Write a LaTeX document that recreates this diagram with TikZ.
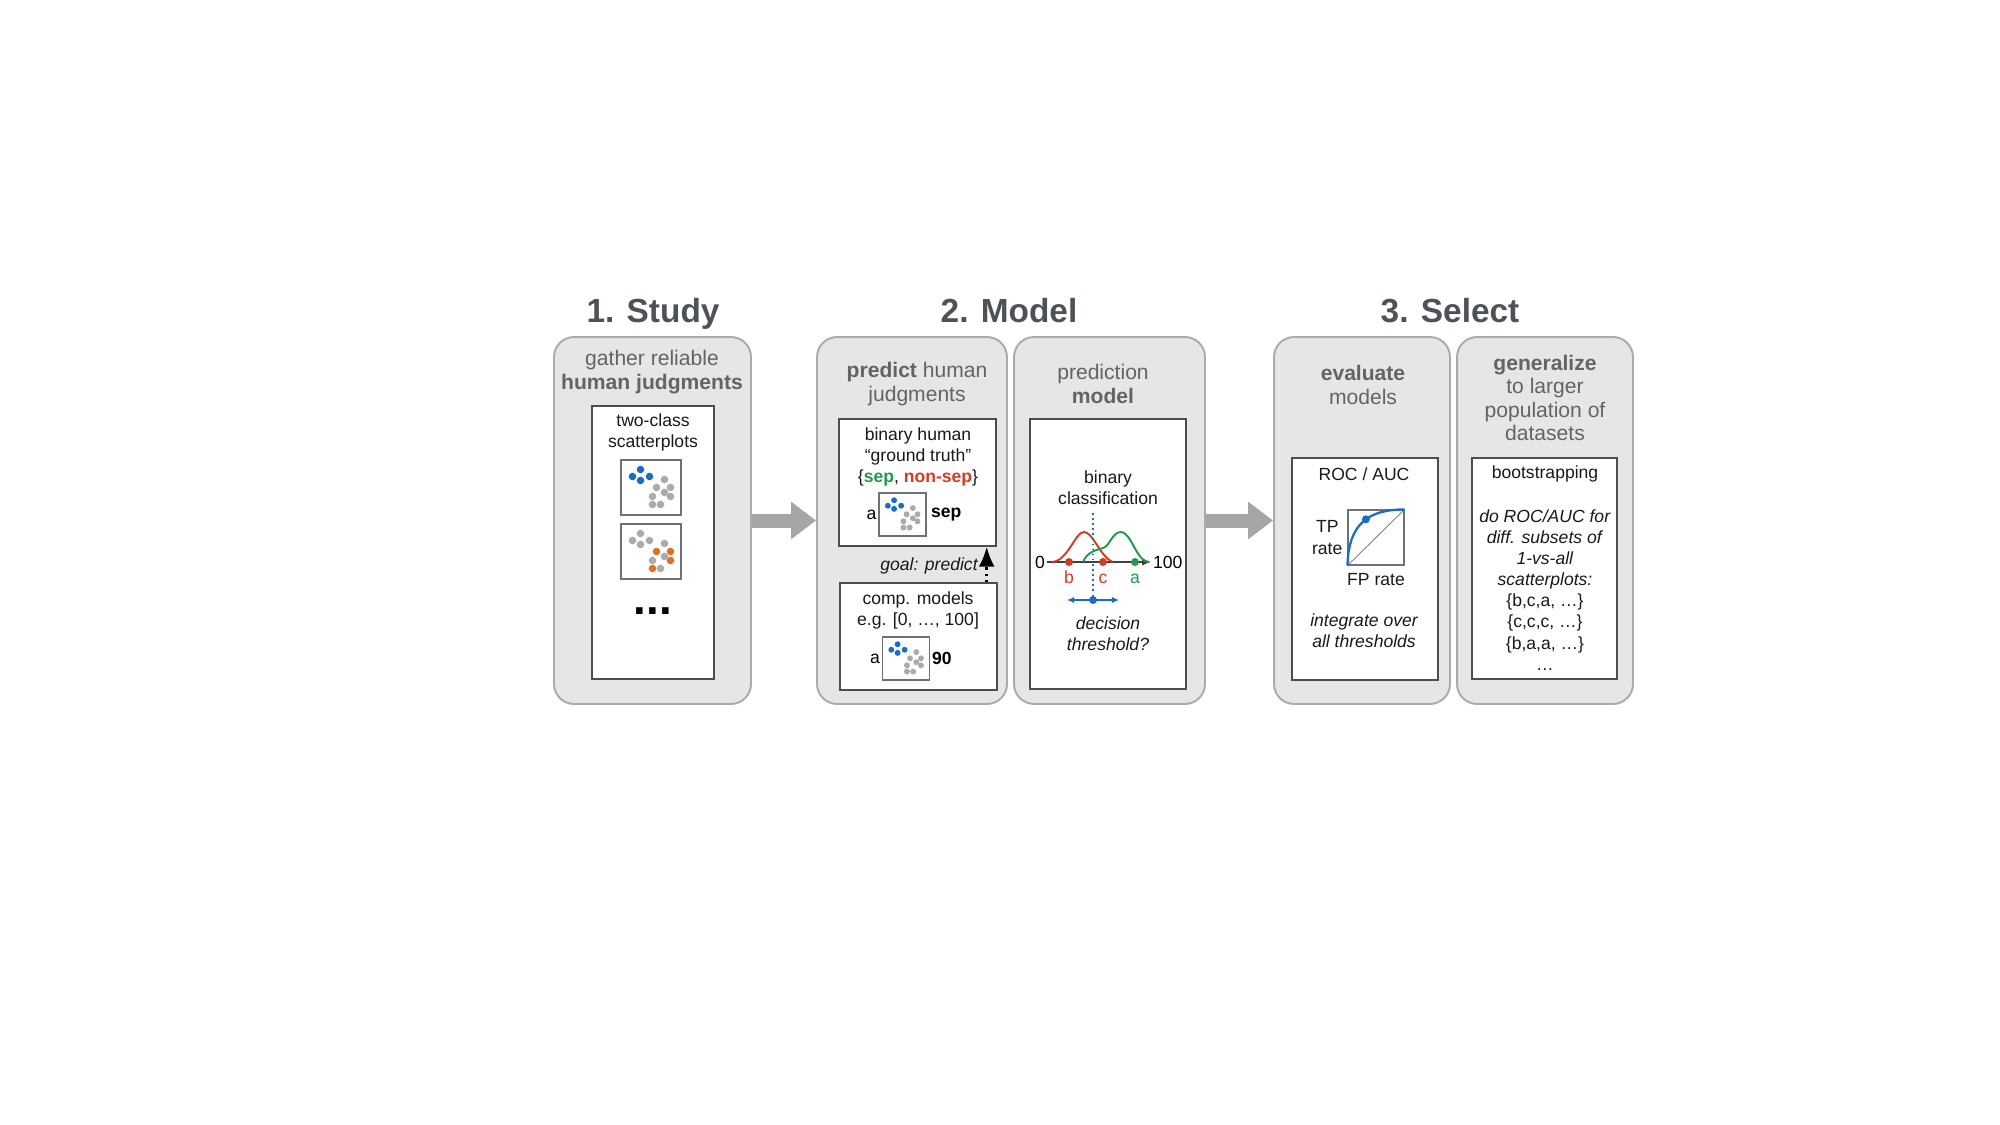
\documentclass[tikz,border=0pt]{standalone}
\usepackage{fontspec}
\setmainfont{Liberation Sans}
\usetikzlibrary{arrows.meta,positioning}
\definecolor{panelfill}{HTML}{E6E6E6}
\definecolor{panelline}{HTML}{ABABAB}
\definecolor{titlecol}{HTML}{4D5258}
\definecolor{hdrcol}{HTML}{646464}
\definecolor{boxline}{HTML}{4D4D4D}
\definecolor{dotblue}{HTML}{1A6CC4}
\definecolor{dotgray}{HTML}{ABABAB}
\definecolor{dotorange}{HTML}{E0731F}
\definecolor{sepgreen}{HTML}{22994A}
\definecolor{sepred}{HTML}{D33C22}
\definecolor{arrowgray}{HTML}{A6A6A6}
\tikzset{
  panel/.style={draw=panelline,fill=panelfill,line width=1.1pt,rounded corners=0.4cm,minimum height=7.34cm},
  inbox/.style={draw=boxline,fill=white,line width=0.8pt},
  plotbox/.style={draw=boxline!80,fill=white,line width=0.6pt,minimum width=1.2cm,minimum height=1.1cm},
  minibox/.style={draw=boxline!80,fill=white,line width=0.6pt,minimum width=0.94cm,minimum height=0.86cm},
  title/.style={font=\fontsize{19}{22}\selectfont\bfseries,text=titlecol,anchor=base},
  header/.style={font=\fontsize{12}{13.4}\selectfont,text=hdrcol,align=center},
  body/.style={font=\fontsize{10}{12}\selectfont,text=black!90,align=center},
  lbl/.style={font=\fontsize{10}{12}\selectfont,inner sep=1pt},
  bigarrow/.style={draw=arrowgray,line width=0.28cm,-{Triangle[length=0.5cm,width=0.72cm]}},
  dist/.style={line width=1.1pt},
  dotpt/.style={circle,inner sep=0pt,minimum size=0.16cm}
}
\newcommand{\groupA}[1]{\foreach \x/\y in {12/17,20/10,29/17,20/21} \fill[#1] (\x,\y) circle (3.8);}
\newcommand{\groupB}[2]{%
  \foreach \x/\y in {36/28,50/28,50/37,32/45} \fill[#1] (\x,\y) circle (3.8);
  \foreach \x/\y in {44/20,44/33,32/37,40/45} \fill[#2] (\x,\y) circle (3.8);}
\begin{document}
\begin{tikzpicture}[x=0.02cm,y=-0.02cm]
\useasboundingbox (0,0) rectangle (2000,1125);
\fill[white] (0,0) rectangle (2000,1125);

\node[panel,minimum width=3.94cm] (study) at (652.5,520.5) {};
\node[panel,minimum width=3.8cm] (predict) at (912,520.5) {};
\node[panel,minimum width=3.82cm] (model) at (1109.5,520.5) {};
\node[panel,minimum width=3.52cm] (evaluate) at (1362,520.5) {};
\node[panel,minimum width=3.52cm] (generalize) at (1545,520.5) {};

\draw[bigarrow] (study) -- (predict);
\draw[bigarrow] (model) -- (evaluate);

\node[title] (t1) at (653,322) {1. Study};
\node[title] (t2) at (1009,322) {2. Model};
\node[title] (t3) at (1450,322) {3. Select};

\node[header] (h1) at (652,372) {gather reliable\\\textbf{human judgments}};
\node[header] (h2) at (917,384) {\textbf{predict} human\\judgments};
\node[header] (h3) at (1103,384) {prediction\\\textbf{model}};
\node[header] (h4) at (1363,385) {\textbf{evaluate}\\models};
\node[header] (h5) at (1545,398) {\textbf{generalize}\\to larger\\population of\\datasets};

% study
\node[inbox,minimum width=2.44cm,minimum height=5.46cm] (plots) at (653,542.5) {};
\node[body] (plotstxt) at (653,432) {two-class\\scatterplots};
\node[plotbox] (sc1) at (651,487.5) {};
\node[plotbox] (sc2) at (651,551.5) {};
\begin{scope}[shift={(sc1.north west)}]
  \groupA{dotblue} \groupB{dotgray}{dotgray}
\end{scope}
\begin{scope}[shift={(sc2.north west)}]
  \groupA{dotgray} \groupB{dotorange}{dotgray}
\end{scope}
\node[font=\fontsize{26}{26}\selectfont\bfseries] (more) at (653,611) {...};

% predict
\node[inbox,minimum width=3.14cm,minimum height=2.54cm] (truth) at (917.5,482.5) {};
\node[body] (truthtxt) at (918,457) {binary human\\“ground truth”\\\{\textbf{\textcolor{sepgreen}{sep}}, \textbf{\textcolor{sepred}{non-sep}}\}};
\node[minibox] (m1) at (902.5,514.5) {};
\begin{scope}[shift={(m1.north west)},scale=0.78]
  \groupA{dotblue} \groupB{dotgray}{dotgray}
\end{scope}
\node[lbl,left=0pt of m1] (m1a) {a};
\node[lbl,right=0.05cm of m1,font=\fontsize{10}{12}\selectfont\bfseries] (m1v) {sep};

\node[inbox,minimum width=3.14cm,minimum height=2.14cm] (comp) at (918.5,636.5) {};
\node[body] (comptxt) at (918,610) {comp. models\\e.g. [0, …, 100]};
\node[minibox] (m2) at (906,658.5) {};
\begin{scope}[shift={(m2.north west)},scale=0.78]
  \groupA{dotblue} \groupB{dotgray}{dotgray}
\end{scope}
\node[lbl,left=0pt of m2] (m2a) {a};
\node[lbl,right=0pt of m2,font=\fontsize{10}{12}\selectfont\bfseries] (m2v) {90};

\draw[dotted,line width=1.5pt,-{Latex[length=0.4cm,width=0.32cm]}] ([xshift=-0.22cm]comp.north east) -- ([xshift=-0.2cm]truth.south east);
\node[body,font=\fontsize{10}{12}\selectfont\itshape] (goal) at (929,566) {goal: predict};

% model
\node[inbox,minimum width=3.12cm,minimum height=5.4cm] (clf) at (1108,554) {};
\node[body] (clftxt) at (1108,488) {binary\\classification};
\node[lbl,anchor=east] (zero) at (1047,562) {0};
\node[lbl,anchor=west] (hundred) at (1151,562) {100};
\draw[-{Latex[length=5pt,width=4pt]},line width=0.6pt,black!75] (zero) -- (hundred);
\draw[dist,sepred] (1052,562) .. controls (1068,561) and (1075,532) .. (1084,532) .. controls (1093,532) and (1100,557) .. (1113,562);
\draw[dist,sepgreen] (1083,562) .. controls (1087,552) and (1096,550) .. (1103,548) .. controls (1110,546) and (1112,532) .. (1121,532) .. controls (1131,532) and (1136,560) .. (1148,562);
\node[dotpt,fill=sepred] (db) at (1069,562) {};
\node[dotpt,fill=sepred] (dc) at (1103,562) {};
\node[dotpt,fill=sepgreen] (da) at (1135,562) {};
\node[lbl,text=sepred,anchor=base] (lb) at (1069,583) {b};
\node[lbl,text=sepred,anchor=base] (lc) at (1103,583) {c};
\node[lbl,text=sepgreen,anchor=base] (la) at (1135,583) {a};
\coordinate (thtop) at (1093,513);
\coordinate (thleft) at (1067,600);
\coordinate (thright) at (1119,600);
\draw[dotblue,dotted,line width=0.9pt] (thtop) -- (1093,600);
\draw[dotblue,line width=0.7pt,{Latex[length=4pt,width=3.5pt]}-{Latex[length=4pt,width=3.5pt]}] (thleft) -- (thright);
\node[dotpt,fill=dotblue] (thr) at (1093,600) {};
\node[body,font=\fontsize{10}{12}\selectfont\itshape] (thrtxt) at (1108,634) {decision\\threshold?};

% evaluate
\node[inbox,minimum width=2.92cm,minimum height=4.44cm] (rocbox) at (1365,569) {};
\node[body] (roctitle) at (1364,474) {ROC / AUC};
\node[draw=boxline!80,line width=0.6pt,minimum width=1.12cm,minimum height=1.1cm] (roc) at (1376,537.5) {};
\draw[black!50,line width=0.5pt] (roc.south west) -- (roc.north east);
\draw[dotblue,line width=1.3pt] (roc.south west) .. controls +(1,-42) and +(-36,0) .. (roc.north east) coordinate[pos=0.55] (rocpt);
\fill[dotblue] (rocpt) circle (4);
\node[body,inner sep=1pt,left=0.06cm of roc] (tp) {TP\\rate};
\node[body,below=0.03cm of roc] (fp) {FP rate};
\node[body,font=\fontsize{10}{12}\selectfont\itshape] (integ) at (1364,631) {integrate over\\all thresholds};

% generalize
\node[inbox,minimum width=2.9cm,minimum height=4.42cm] (bootbox) at (1544.5,568.5) {};
\node[body] (boottitle) at (1545,474) {bootstrapping};
\node[body] (boottxt) at (1545,590) {\textit{do ROC/AUC for}\\\textit{diff. subsets of}\\\textit{1-vs-all}\\\textit{scatterplots:}\\\{b,c,a, …\}\\\{c,c,c, …\}\\\{b,a,a, …\}\\…};

\end{tikzpicture}
\end{document}
